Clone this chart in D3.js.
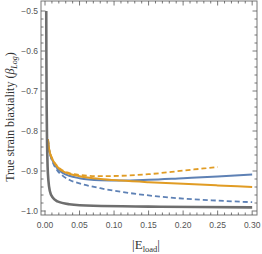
<!DOCTYPE html>
<html><head><meta charset="utf-8">
<script src="https://cdn.jsdelivr.net/npm/d3@7"></script>
<style>body{margin:0;background:#fff}svg{display:block}</style>
</head><body>
<svg id="c" width="262" height="254"></svg>
<script>
const xTicks = [0.00, 0.05, 0.10, 0.15, 0.20, 0.25, 0.30];
const yTicks = [-0.5, -0.6, -0.7, -0.8, -0.9, -1.0];

const grayX = [0.0018, 0.002, 0.0024, 0.003, 0.0038, 0.005, 0.007, 0.011, 0.018, 0.035, 0.07, 0.15, 0.22, 0.30];
const grayY = [-0.50, -0.62, -0.74, -0.83, -0.89, -0.925, -0.950, -0.966, -0.976, -0.983, -0.987, -0.989, -0.990, -0.991];

const orangeX = [0.0042, 0.006, 0.009, 0.013, 0.018, 0.025, 0.035, 0.05, 0.08, 0.11, 0.15, 0.20, 0.25, 0.30];
const orangeY = [-0.82, -0.846, -0.864, -0.878, -0.890, -0.900, -0.907, -0.913, -0.920, -0.924, -0.928, -0.932, -0.936, -0.940];

const orangeDashX = [0.0042, 0.006, 0.009, 0.013, 0.018, 0.025, 0.035, 0.05, 0.08, 0.11, 0.15, 0.20, 0.25];
const orangeDashY = [-0.82, -0.846, -0.863, -0.877, -0.888, -0.898, -0.905, -0.910, -0.913, -0.912, -0.908, -0.899, -0.890];

const blueX = [0.0042, 0.006, 0.009, 0.013, 0.018, 0.025, 0.035, 0.05, 0.08, 0.11, 0.15, 0.20, 0.25, 0.30];
const blueY = [-0.82, -0.847, -0.866, -0.881, -0.894, -0.904, -0.912, -0.918, -0.923, -0.924, -0.922, -0.918, -0.914, -0.909];

const blueDashX = [0.0042, 0.006, 0.009, 0.013, 0.018, 0.025, 0.035, 0.05, 0.08, 0.11, 0.15, 0.20, 0.25, 0.30];
const blueDashY = [-0.82, -0.848, -0.868, -0.885, -0.899, -0.911, -0.922, -0.931, -0.943, -0.952, -0.961, -0.969, -0.974, -0.978];

const W = 262, H = 254;
const m = {l: 41, r: 5, t: 1, b: 39};
const svg = d3.select("#c");
const x = d3.scaleLinear().domain([-0.0058, 0.307]).range([m.l, W - m.r]);
const y = d3.scaleLinear().domain([-1.01, -0.475]).range([H - m.b, m.t]);

const fmtX = d3.format(".2f");
const fmtY = v => d3.format(".1f")(v).replace("-", "\u2212");

const xMinor = d3.range(0, 31).map(i => i / 100).filter(v => !xTicks.some(t => Math.abs(t - v) < 1e-9));
const yMinor = d3.range(-50, -24).map(i => i / 50).filter(v => v >= -1.01 && v <= -0.475 && !yTicks.some(t => Math.abs(t - v) < 1e-9));

const tickCol = "#555";
const g = svg.append("g");
g.append("rect").attr("x", x.range()[0]).attr("y", y.range()[1])
  .attr("width", x.range()[1] - x.range()[0]).attr("height", y.range()[0] - y.range()[1])
  .attr("fill", "none").attr("stroke", "#777").attr("stroke-width", 1);

const y0 = y.range()[0], y1 = y.range()[1], x0 = x.range()[0], x1 = x.range()[1];
function xt(vals, len) {
  vals.forEach(v => {
    g.append("line").attr("x1", x(v)).attr("x2", x(v)).attr("y1", y0).attr("y2", y0 - len).attr("stroke", tickCol).attr("stroke-width", 0.8);
    g.append("line").attr("x1", x(v)).attr("x2", x(v)).attr("y1", y1).attr("y2", y1 + len).attr("stroke", tickCol).attr("stroke-width", 0.8);
  });
}
function yt(vals, len) {
  vals.forEach(v => {
    g.append("line").attr("y1", y(v)).attr("y2", y(v)).attr("x1", x0).attr("x2", x0 + len).attr("stroke", tickCol).attr("stroke-width", 0.8);
    g.append("line").attr("y1", y(v)).attr("y2", y(v)).attr("x1", x1).attr("x2", x1 - len).attr("stroke", tickCol).attr("stroke-width", 0.8);
  });
}
xt(xTicks, 4.5); xt(xMinor, 2.5);
yt(yTicks, 4.5); yt(yMinor, 2.5);

g.selectAll(".xl").data(xTicks).enter().append("text")
  .attr("x", d => x(d)).attr("y", y0 + 13).attr("text-anchor", "middle")
  .attr("font-family", "Liberation Sans, Arial, sans-serif").attr("font-size", 8.5).attr("fill", "#555")
  .text(fmtX);
g.selectAll(".yl").data(yTicks).enter().append("text")
  .attr("x", x0 - 3).attr("y", d => y(d) + 3).attr("text-anchor", "end")
  .attr("font-family", "Liberation Sans, Arial, sans-serif").attr("font-size", 8.5).attr("fill", "#555")
  .text(fmtY);

const xl = svg.append("text").attr("x", 146).attr("y", 249).attr("text-anchor", "middle")
  .attr("font-family", "Liberation Serif, Times New Roman, serif").attr("font-size", 13).attr("fill", "#333");
xl.append("tspan").text("|E");
xl.append("tspan").attr("font-size", 8.5).attr("dy", 2.5).text("load");
xl.append("tspan").attr("dy", -2.5).text("|");

const yl = svg.append("text").attr("transform", "translate(14,117) rotate(-90)").attr("text-anchor", "middle")
  .attr("font-family", "Liberation Serif, Times New Roman, serif").attr("font-size", 12).attr("fill", "#333");
yl.append("tspan").text("True strain biaxiality (");
yl.append("tspan").attr("font-style", "italic").text("\u03B2");
yl.append("tspan").attr("font-size", 8).attr("dy", 2.5).attr("font-style", "italic").text("Log");
yl.append("tspan").attr("dy", -2.5).text(")");

const line = d3.line().x(d => x(d[0])).y(d => y(d[1])).curve(d3.curveMonotoneX);
const zip = (a, b) => a.map((v, i) => [v, b[i]]);
const pg = svg.append("g");

pg.append("path").datum(zip(blueDashX, blueDashY)).attr("d", line).attr("fill", "none")
  .attr("stroke", "#5E81B5").attr("stroke-width", 1.8).attr("stroke-dasharray", "5,3");
pg.append("path").datum(zip(blueX, blueY)).attr("d", line).attr("fill", "none")
  .attr("stroke", "#5E81B5").attr("stroke-width", 2);
pg.append("path").datum(zip(orangeDashX, orangeDashY)).attr("d", line).attr("fill", "none")
  .attr("stroke", "#E19C24").attr("stroke-width", 1.8).attr("stroke-dasharray", "5,3");
pg.append("path").datum(zip(orangeX, orangeY)).attr("d", line).attr("fill", "none")
  .attr("stroke", "#E19C24").attr("stroke-width", 2);
pg.append("path").datum(zip(grayX, grayY)).attr("d", line).attr("fill", "none")
  .attr("stroke", "#6e6e6e").attr("stroke-width", 2.6);
</script>
</body></html>
